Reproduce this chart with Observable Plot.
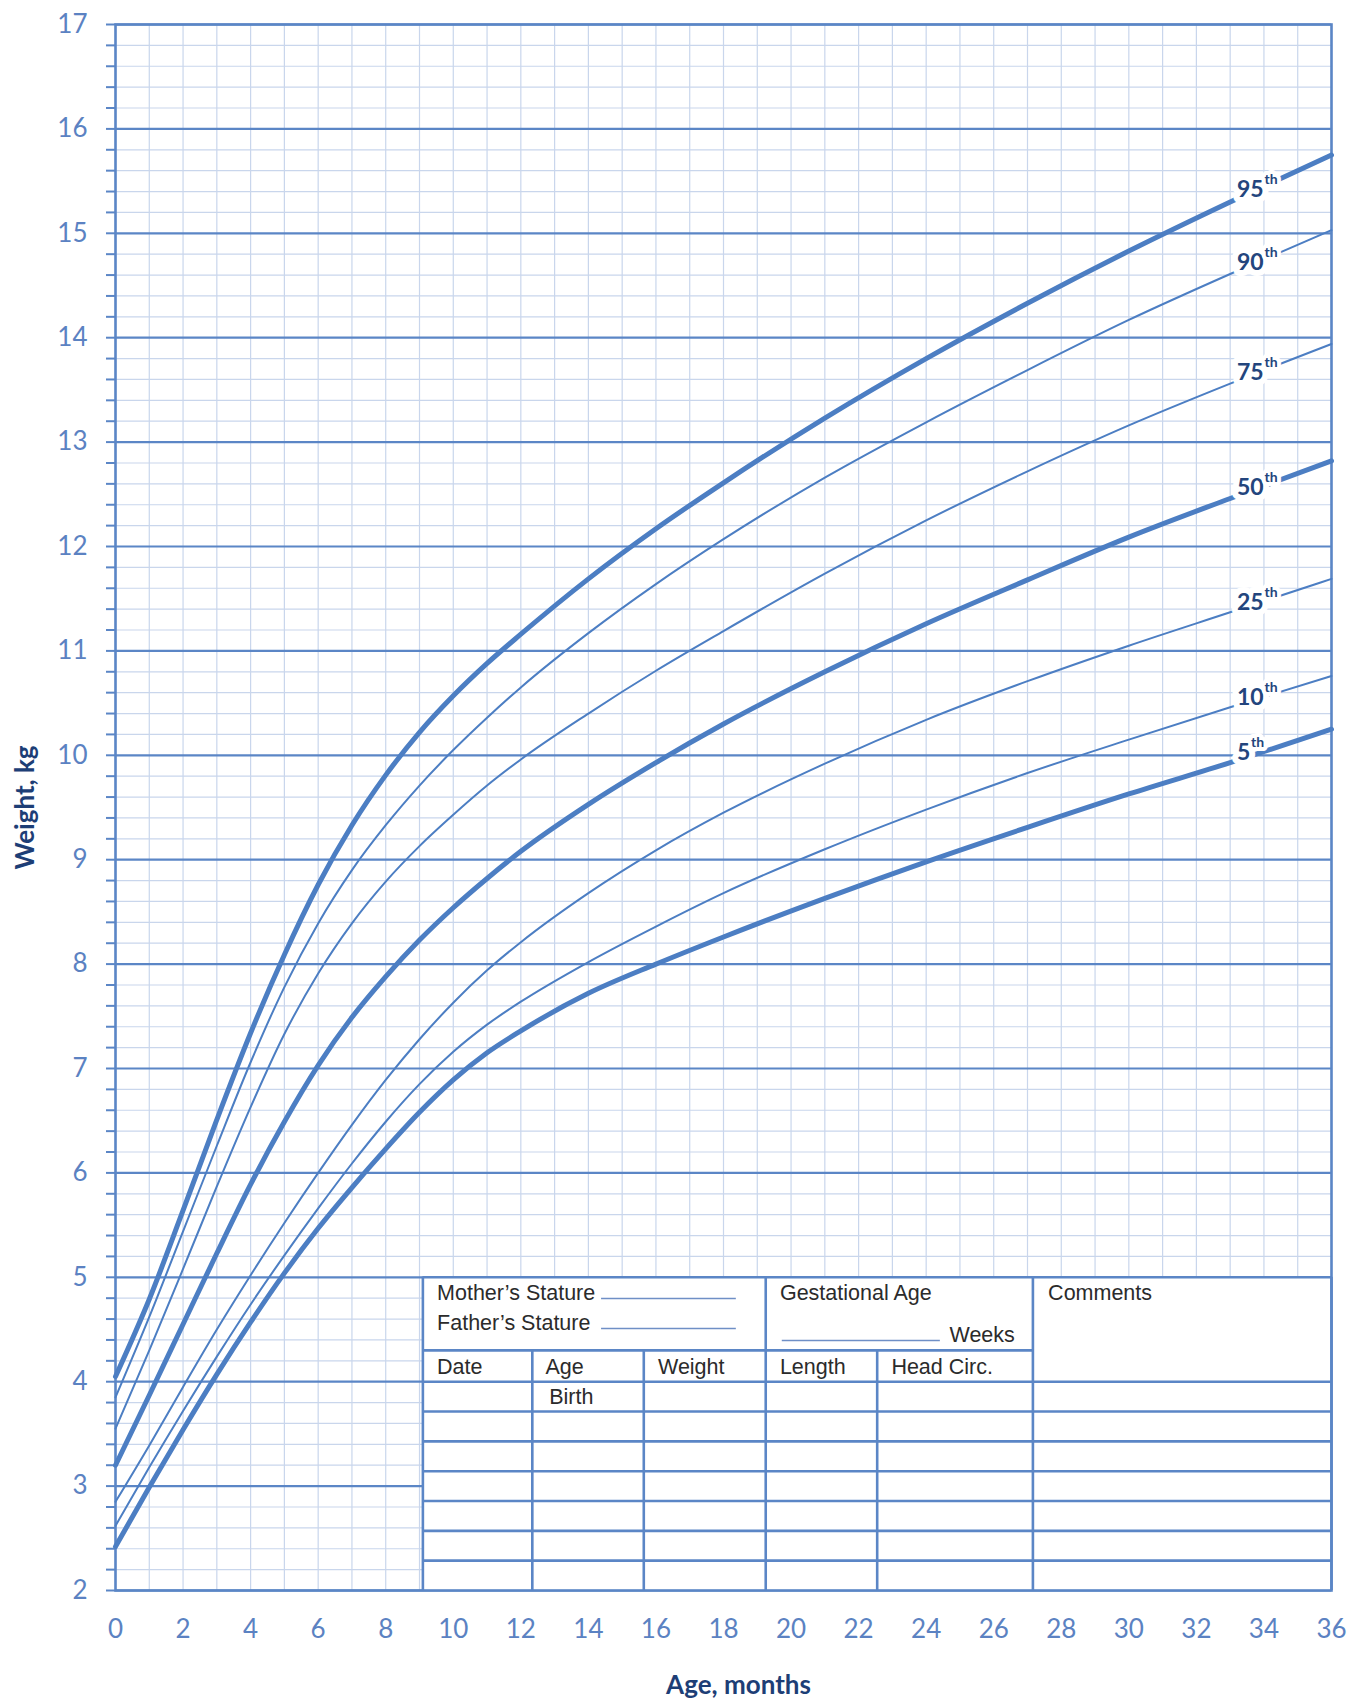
<!DOCTYPE html>
<html>
<head>
<meta charset="utf-8">
<script src="https://cdn.jsdelivr.net/npm/d3@7"></script>
<script src="https://cdn.jsdelivr.net/npm/@observablehq/plot@0.6"></script>
<style>
  html, body { margin: 0; padding: 0; background: #ffffff; }
  #chart svg { display: block; }
</style>
</head>
<body>
<div id="chart"></div>
<script>
// ---------------- data ----------------
const months = [0, 1, 2, 3, 4, 5, 6, 7, 8, 9, 10, 11, 12, 14, 16, 18, 21, 24, 27, 30, 33, 36];
const p95 = [4.05, 4.79, 5.64, 6.51, 7.34, 8.09, 8.76, 9.33, 9.81, 10.22, 10.57, 10.88, 11.16, 11.69, 12.17, 12.61, 13.23, 13.80, 14.33, 14.83, 15.30, 15.75];
const p90 = [3.85, 4.62, 5.44, 6.26, 7.06, 7.78, 8.39, 8.90, 9.33, 9.71, 10.05, 10.36, 10.65, 11.17, 11.64, 12.07, 12.66, 13.19, 13.69, 14.17, 14.61, 15.03];
const p75 = [3.55, 4.30, 5.08, 5.87, 6.63, 7.33, 7.91, 8.39, 8.79, 9.13, 9.43, 9.71, 9.96, 10.40, 10.81, 11.19, 11.74, 12.25, 12.72, 13.16, 13.56, 13.94];
const p50 = [3.20, 3.87, 4.55, 5.23, 5.89, 6.49, 7.03, 7.49, 7.88, 8.23, 8.54, 8.82, 9.08, 9.53, 9.93, 10.30, 10.80, 11.26, 11.68, 12.09, 12.46, 12.82];
const p25 = [2.85, 3.39, 3.95, 4.50, 5.02, 5.52, 6.00, 6.46, 6.89, 7.28, 7.63, 7.94, 8.21, 8.68, 9.09, 9.45, 9.92, 10.34, 10.71, 11.05, 11.37, 11.69];
const p10 = [2.62, 3.18, 3.72, 4.24, 4.74, 5.21, 5.66, 6.09, 6.49, 6.85, 7.16, 7.42, 7.64, 8.02, 8.36, 8.68, 9.10, 9.48, 9.83, 10.15, 10.46, 10.76];
const p5  = [2.42, 2.99, 3.54, 4.07, 4.57, 5.04, 5.47, 5.86, 6.23, 6.58, 6.89, 7.15, 7.36, 7.72, 8.00, 8.26, 8.63, 8.98, 9.31, 9.63, 9.93, 10.25];

const seriesNames = ["95", "90", "75", "50", "25", "10", "5"];
const seriesValues = [p95, p90, p75, p50, p25, p10, p5];
const thickSeries = ["95", "50", "5"];

const xTicks = d3.range(0, 37, 2);          // 0 … 36 months
const yTicks = d3.range(2, 18, 1);          // 2 … 17 kg

// record form (table) texts
const formHeaders = ["Mother\u2019s Stature", "Father\u2019s Stature", "Gestational Age", "Weeks", "Comments",
                     "Date", "Age", "Weight", "Length", "Head Circ.", "Birth"];

// ---------------- layout / style ----------------
const W = 1360, H = 1702;
const mL = 115, mR = 29, mT = 24, mB = 112;
const minorColor = "#c9d6ec";
const majorColor = "#5b86c6";
const curveColor = "#4c7ec3";
const tickText = "#5b82c2";
const labelText = "#23457d";
const titleColor = "#1d3e76";
const formText = "#2b2b2b";
const numFont = "Lato, 'Open Sans', sans-serif";
const formFont = "'Liberation Sans', Arial, sans-serif";

// form geometry in chart units (months, kg)
const formLeft = 9.1, formRight = 36, formTop = 5, formBottom = 2;
const headerSplit = 4.3, headerBottom = 4.0;
const colDate = 12.34, colWeight = 15.64, colLength = 19.25, colHead = 22.55, colComments = 27.16;
const rowCount = 7;

// ---------------- derived tables ----------------
const rows = [];
seriesNames.forEach((name, si) => {
  months.forEach((m, i) => rows.push({pct: name, age: m, weight: seriesValues[si][i]}));
});
const thickRows = rows.filter(d => thickSeries.includes(d.pct));
const thinRows = rows.filter(d => !thickSeries.includes(d.pct));

const labelAge = 33.2;
const labelRef = 33.6;
const labels = seriesNames.map((name, si) => {
  const v = seriesValues[si];
  const i0 = months.indexOf(33), i1 = months.indexOf(36);
  const y = v[i0] + (v[i1] - v[i0]) * (labelRef - 33) / 3;
  return {name, age: labelAge, weight: y};
});

const minorY = d3.range(2, 17.001, 0.2).map(v => +v.toFixed(1)).filter(v => Math.abs(v - Math.round(v)) > 1e-6);
const monthsGrid = d3.range(0, 37, 1);

// table lines
const rowLines = d3.range(0, rowCount).map(k => headerBottom - k * (headerBottom - formBottom) / rowCount);
const hLines = [
  {y: formTop, x1: formLeft, x2: formRight},
  {y: headerSplit, x1: formLeft, x2: colComments},
  ...rowLines.map(y => ({y, x1: formLeft, x2: formRight}))
];
const vLines = [
  {x: formLeft, y1: formBottom, y2: formTop},
  {x: colDate, y1: formBottom, y2: headerSplit},
  {x: colWeight, y1: formBottom, y2: headerSplit},
  {x: colLength, y1: formBottom, y2: formTop},
  {x: colHead, y1: formBottom, y2: headerSplit},
  {x: colComments, y1: formBottom, y2: formTop},
  {x: formRight, y1: formBottom, y2: formTop}
];
const formTextPos = [
  {x: 9.52, y: 4.778}, {x: 9.52, y: 4.497}, {x: 19.67, y: 4.778}, {x: 24.69, y: 4.378}, {x: 27.61, y: 4.787},
  {x: 9.52, y: 4.069}, {x: 12.73, y: 4.069}, {x: 16.06, y: 4.069}, {x: 19.67, y: 4.069}, {x: 22.97, y: 4.069},
  {x: 12.84, y: 3.79}
].map((p, i) => ({...p, text: formHeaders[i]}));
const blanks = [
  {y: 4.797, x1: 14.39, x2: 18.38},
  {y: 4.51, x1: 14.39, x2: 18.38},
  {y: 4.395, x1: 19.74, x2: 24.42}
];

const chart = Plot.plot({
  width: W, height: H,
  marginLeft: mL, marginRight: mR, marginTop: mT, marginBottom: mB,
  x: {domain: [0, 36]},
  y: {domain: [2, 17]},
  style: {background: "#ffffff", fontFamily: numFont},
  marks: [
    // minor grid
    Plot.ruleX(monthsGrid, {x: d => d, stroke: minorColor, strokeWidth: 1.2}),
    Plot.ruleY(minorY, {y: d => d, stroke: minorColor, strokeWidth: 1.2}),
    // major kg lines
    Plot.ruleY(yTicks, {y: d => d, stroke: majorColor, strokeWidth: 2.2}),
    // record form
    Plot.rect([{x1: formLeft, x2: formRight, y1: formBottom, y2: formTop}], {x1: "x1", x2: "x2", y1: "y1", y2: "y2", fill: "#ffffff"}),
    Plot.ruleY(hLines, {y: "y", x1: "x1", x2: "x2", stroke: majorColor, strokeWidth: 2.6}),
    Plot.ruleX(vLines, {x: "x", y1: "y1", y2: "y2", stroke: majorColor, strokeWidth: 2.6}),
    Plot.ruleY(blanks, {y: "y", x1: "x1", x2: "x2", stroke: "#6f8fc6", strokeWidth: 1.4}),
    Plot.text(formTextPos, {x: "x", y: "y", text: "text", textAnchor: "start", lineAnchor: "bottom",
      fontFamily: formFont, fontSize: 21.5, fill: formText}),
    // frame
    Plot.frame({stroke: majorColor, strokeWidth: 2.6}),
    // axes
    Plot.axisY({ticks: minorY, tickSize: 9, tickFormat: () => "", stroke: majorColor, strokeWidth: 2, label: null}),
    Plot.axisY({ticks: yTicks, tickSize: 9, tickPadding: 19, fontSize: 26, fill: tickText, stroke: majorColor, strokeWidth: 2, label: null}),
    Plot.axisX({ticks: xTicks, tickSize: 0, tickPadding: 29, fontSize: 26, fill: tickText, label: null}),
    Plot.text(["Weight, kg"], {frameAnchor: "left", textAnchor: "middle", lineAnchor: "middle", dx: -90, rotate: -90,
      fontSize: 26, fontWeight: "bold", fill: titleColor}),
    Plot.text(["Age, months"], {frameAnchor: "bottom", textAnchor: "middle", lineAnchor: "middle", dx: 15, dy: 95,
      fontSize: 26, fontWeight: "bold", fill: titleColor}),
    // percentile curves
    Plot.line(thinRows, {x: "age", y: "weight", z: "pct", stroke: curveColor, strokeWidth: 2, curve: "monotone-x"}),
    Plot.line(thickRows, {x: "age", y: "weight", z: "pct", stroke: curveColor, strokeWidth: 5, curve: "monotone-x"}),
    // curve labels
    Plot.text(labels, {x: "age", y: "weight", text: d => d.name, textAnchor: "start", dy: -3,
      fontSize: 23, fontWeight: "bold", fill: labelText, stroke: "#ffffff", strokeWidth: 12}),
    Plot.text(labels.filter(d => d.name.length === 2), {x: "age", y: "weight", text: () => "th", textAnchor: "start",
      dx: 27.5, dy: -13, fontSize: 14, fontWeight: "bold", fill: labelText, stroke: "#ffffff", strokeWidth: 8}),
    Plot.text(labels.filter(d => d.name.length === 1), {x: "age", y: "weight", text: () => "th", textAnchor: "start",
      dx: 14, dy: -13, fontSize: 14, fontWeight: "bold", fill: labelText, stroke: "#ffffff", strokeWidth: 8})
  ]
});
document.getElementById("chart").appendChild(chart);
</script>
</body>
</html>
